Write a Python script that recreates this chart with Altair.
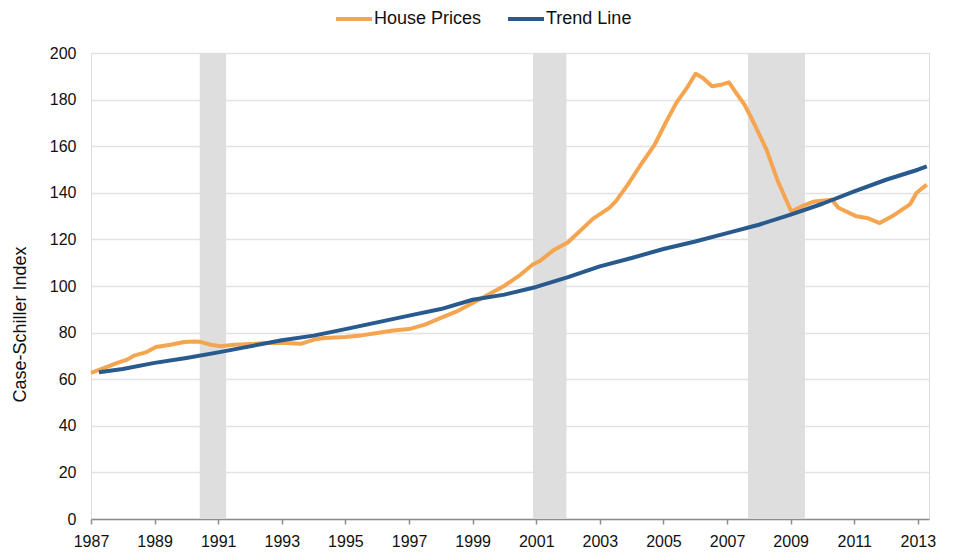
import altair as alt
import pandas as pd

# House prices (Case-Schiller index)
hp_year = [1987.0, 1987.4, 1987.83, 1988.14, 1988.35, 1988.72, 1989.04, 1989.5, 1989.93,
           1990.24, 1990.4, 1990.77, 1991.08, 1991.5, 1992.03, 1992.55, 1993.07, 1993.6,
           1994.02, 1994.33, 1995.0, 1995.5, 1996.0, 1996.5, 1997.0, 1997.5, 1998.0,
           1998.5, 1999.0, 1999.5, 2000.0, 2000.5, 2000.89, 2001.1, 2001.57, 2001.99,
           2002.36, 2002.78, 2003.3, 2003.5, 2003.88, 2004.25, 2004.72, 2005.09, 2005.4,
           2005.77, 2006.01, 2006.24, 2006.53, 2006.82, 2007.06, 2007.29, 2007.55, 2007.82,
           2008.24, 2008.6, 2009.02, 2009.4, 2009.75, 2010.3, 2010.5, 2011.07, 2011.4,
           2011.8, 2012.2, 2012.75, 2012.96, 2013.28]
hp_value = [62.7, 64.8, 67.0, 68.4, 70.1, 71.5, 73.8, 74.8, 76.0,
            76.2, 76.1, 74.8, 74.1, 74.8, 75.1, 75.5, 75.5, 75.2,
            77.0, 77.7, 78.1, 78.8, 79.8, 80.9, 81.5, 83.4, 86.3,
            89.1, 92.7, 96.3, 100.1, 104.8, 109.2, 110.6, 115.6, 118.7,
            123.4, 128.8, 133.5, 136.3, 143.5, 151.3, 160.6, 170.6, 178.5,
            185.7, 191.1, 189.3, 185.7, 186.4, 187.4, 182.8, 177.8, 170.6,
            158.5, 144.9, 132.0, 134.5, 136.3, 137.0, 133.6, 129.9, 129.2,
            127.0, 130.0, 135.0, 140.0, 143.5]

# Trend line
tr_year = [1987.25, 1988, 1989, 1990, 1991, 1992, 1993, 1994, 1995, 1996, 1997, 1998,
           1999, 2000, 2001, 2002, 2003, 2004, 2005, 2006, 2007, 2008, 2009, 2010,
           2011, 2012, 2013, 2013.28]
tr_value = [63.0, 64.4, 67.0, 69.1, 71.5, 74.1, 76.7, 78.7, 81.5, 84.4, 87.3, 90.1,
            94.1, 96.3, 99.6, 103.8, 108.4, 112.0, 115.9, 119.1, 122.7, 126.3, 130.6, 135.3,
            140.6, 145.6, 149.9, 151.3]

# Recession periods (shaded)
rec_start = [1990.42, 2000.9, 2007.66]
rec_end = [1991.25, 2001.95, 2009.45]

series_names = ["House Prices", "Trend Line"]
series_colors = ["#F5A54F", "#285A8E"]

lines = pd.concat([
    pd.DataFrame({"year": hp_year, "value": hp_value, "series": series_names[0]}),
    pd.DataFrame({"year": tr_year, "value": tr_value, "series": series_names[1]}),
])
bands = pd.DataFrame({"start": rec_start, "end": rec_end})

W, H = 838, 466
FONT = "Liberation Sans"

x_scale = alt.Scale(domain=[1987, 2013.35], nice=False, zero=False)
y_scale = alt.Scale(domain=[0, 200], nice=False)

band_layer = alt.Chart(bands).mark_rect(color="#DEDEDE").encode(
    x=alt.X("start:Q", scale=x_scale),
    x2="end:Q",
    y=alt.value(0),
    y2=alt.value(H),
)

line_layer = alt.Chart(lines).mark_line(strokeWidth=4, strokeJoin="round", strokeCap="butt").encode(
    x=alt.X("year:Q", scale=x_scale,
            axis=alt.Axis(title=None, values=list(range(1987, 2014)),
                          labelExpr="datum.value % 2 == 1 ? toString(datum.value) : ''",
                          grid=False, domainColor="#8C8C8C", domainWidth=1.5,
                          tickColor="#8C8C8C", tickWidth=1.5, tickSize=5,
                          labelPadding=9, labelFontSize=16, labelFont=FONT,
                          labelColor="#111111", labelFlush=False)),
    y=alt.Y("value:Q", scale=y_scale,
            axis=alt.Axis(title="Case-Schiller Index", values=list(range(0, 201, 20)),
                          domain=False, ticks=False, grid=True, gridColor="#E2E2E2",
                          gridWidth=1.5, labelPadding=15, labelFontSize=16, labelFont=FONT,
                          labelColor="#111111", titleFont=FONT, titleFontSize=18,
                          titleFontWeight="normal", titleColor="#111111",
                          titleX=-71, titleY=271, titleAngle=270,
                          titleAlign="center", titleBaseline="middle")),
    color=alt.Color("series:N",
                    scale=alt.Scale(domain=series_names, range=series_colors),
                    legend=alt.Legend(title=None, orient="none", direction="horizontal",
                                      legendX=243, legendY=-54,
                                      symbolType="stroke", symbolSize=1296,
                                      symbolStrokeWidth=4, labelOffset=0,
                                      labelFont=FONT, labelFontSize=18,
                                      labelColor="#111111", columnPadding=18)),
    detail="series:N",
)

chart = alt.layer(band_layer, line_layer).properties(
    width=W, height=H,
    autosize=alt.AutoSizeParams(type="none"),
    padding={"left": 83, "top": 45, "right": 12, "bottom": 35},
).configure_view(stroke=None).configure(background="white")

chart.save("out.html", embed_options={"renderer": "svg", "actions": False})
